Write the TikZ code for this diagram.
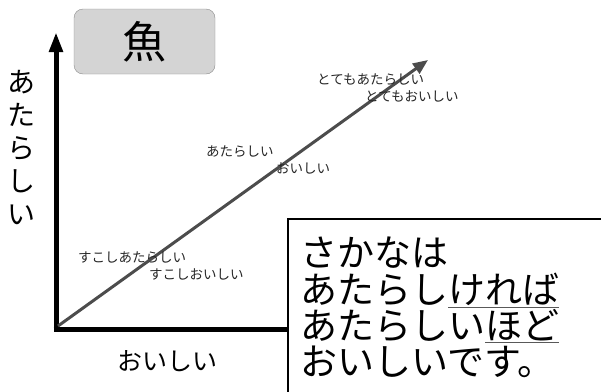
\documentclass[tikz,border=0pt]{standalone}
\usepackage{fontspec}
\setmainfont{Noto Sans CJK JP}
\usetikzlibrary{arrows.meta}
\newcommand{\grayul}[1]{{\color{black!65}\underline{\color{black}#1}}}
\tikzset{
  small/.style={font=\fontsize{13.5}{14}\selectfont, inner sep=0pt, text=black!85, anchor=west},
  axis/.style={line width=5pt, -{Triangle[length=20pt,width=13pt]}},
}
\begin{document}
\begin{tikzpicture}[x=1pt,y=-1pt]
\useasboundingbox (0,0) rectangle (601,391);
% title box
\node[draw=black!45, fill=black!17, rounded corners=9pt, minimum width=141pt, minimum height=65pt, inner sep=0pt, font=\fontsize{44}{44}\selectfont] (title) at (144.5,41.5) {魚};
% axes
\coordinate (o) at (56,329);
\coordinate (ytop) at (56,32);
\coordinate (xend) at (300,329);
\draw[axis] (56,331.5) -- (ytop);
\draw[line width=5pt] (53.5,329) -- (xend);
% diagonal
\coordinate (d0) at (58,326);
\coordinate (d1) at (428,60);
\draw[line width=3pt, draw=black!70, -{Triangle[length=15pt,width=12pt]}] (d0) -- (d1);
% axis labels
\node[font=\fontsize{28}{33}\selectfont, align=center, inner sep=0pt] (ylab) at (22,148) {あ\\た\\ら\\し\\い};
\node[font=\fontsize{25}{25}\selectfont, inner sep=0pt] (xlab) at (167,361) {おいしい};
% small labels
\node[small] (l1) at (317,80) {とてもあたらしい};
\node[small] (l2) at (365,96) {とてもおいしい};
\node[small] (l3) at (206,152) {あたらしい};
\node[small] (l4) at (276,168) {おいしい};
\node[small] (l5) at (78,258) {すこしあたらしい};
\node[small] (l6) at (149,274) {すこしおいしい};
% text box
\draw[line width=1.2pt, fill=white] (288,219) rectangle (610,400);
\node[anchor=north west, inner sep=0pt, align=left, font=\fontsize{37}{36.3}\selectfont] (txt) at (300,237)
  {さかなは\\あたらし\grayul{ければ}\\あたらしい\grayul{ほど}\\おいしいです。};
\end{tikzpicture}
\end{document}
